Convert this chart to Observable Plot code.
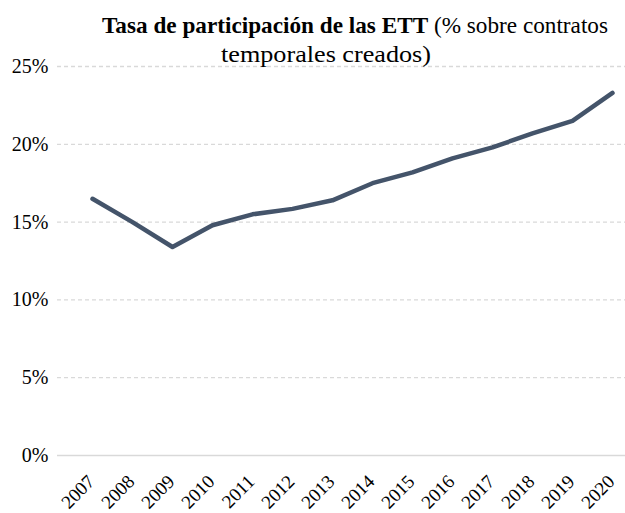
<!DOCTYPE html>
<html>
<head>
<meta charset="utf-8">
<script src="https://cdn.jsdelivr.net/npm/d3@7"></script>
<script src="https://cdn.jsdelivr.net/npm/@observablehq/plot@0.6"></script>
<style>
  html, body { margin: 0; padding: 0; background: #fff; }
  #wrap { position: relative; width: 625px; height: 513px; }
  #title { position: absolute; left: 0; top: 0; pointer-events: none; }
  svg text { font-family: "Liberation Serif", "Times New Roman", serif; }
</style>
</head>
<body>
<div id="wrap">
  <div id="chart"></div>
  <svg id="title" width="625" height="80" xmlns="http://www.w3.org/2000/svg">
    <text x="102" y="33" font-size="24" fill="#000" textLength="506" lengthAdjust="spacingAndGlyphs"><tspan font-weight="bold">Tasa de participación de las ETT</tspan> (% sobre contratos</text>
    <text x="221" y="62" font-size="24" fill="#000" textLength="210" lengthAdjust="spacingAndGlyphs">temporales creados)</text>
  </svg>
</div>
<script>
const years = ["2007","2008","2009","2010","2011","2012","2013","2014","2015","2016","2017","2018","2019","2020"];
const rates = [16.5, 15.0, 13.4, 14.8, 15.5, 15.85, 16.4, 17.5, 18.2, 19.1, 19.8, 20.7, 21.5, 23.3];
const yTicks = [0, 5, 10, 15, 20, 25];
const gridTicks = [5, 10, 15, 20, 25];

const data = years.map((y, i) => ({year: y, value: rates[i]}));

const chart = Plot.plot({
  width: 625,
  height: 513,
  marginTop: 66,
  marginBottom: 58,
  marginLeft: 57,
  marginRight: 0,
  style: {fontFamily: "Liberation Serif, Times New Roman, serif", color: "#000", background: "#fff"},
  x: {type: "point", domain: years, range: [89, 615], padding: 0, label: null, axis: null},
  y: {domain: [0, 25], label: null},
  marks: [
    Plot.ruleY(gridTicks, {stroke: "#d9d9d9", strokeWidth: 1.3, strokeDasharray: "4,3"}),
    Plot.ruleY([0], {stroke: "#d9d9d9", strokeWidth: 1.6}),
    Plot.axisY({ticks: yTicks, tickSize: 0, tickPadding: 9, tickFormat: d => d + "%", fontSize: 20, fill: "#000"}),
    Plot.text(years, {x: d => d, text: d => d, frameAnchor: "bottom", textAnchor: "end", lineAnchor: "middle", rotate: -45, dy: 23, dx: -1, fontSize: 19, fill: "#000"}),
    Plot.line(data, {x: "year", y: "value", stroke: "#44546a", strokeWidth: 4.5, strokeLinejoin: "round", strokeLinecap: "round"})
  ]
});
document.getElementById("chart").appendChild(chart);
</script>
</body>
</html>
